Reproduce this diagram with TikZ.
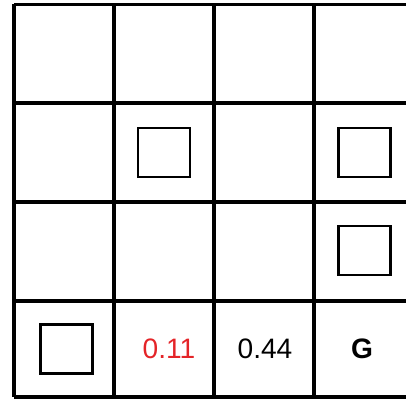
\documentclass[tikz,border=0pt]{standalone}
\usepackage{fontspec}
\setmainfont{Liberation Sans}
\definecolor{valred}{RGB}{228, 36, 40}
\usetikzlibrary{positioning}

\begin{document}
\begin{tikzpicture}[x=0.025cm, y=-0.025cm,
  gridline/.style={line width=2.2pt, black},
  wallbox/.style={draw, line width=1.5pt, minimum width=1.3cm, minimum height=1.225cm, inner sep=0pt},
  valtext/.style={font=\fontsize{20}{24}\selectfont, inner sep=0pt}
]
  \useasboundingbox (0,0) rectangle (406,399);
  % grid
  \foreach \x in {14,114,214,314}
    \draw[gridline] (\x,4.5) -- (\x,397);
  \foreach \y in {4.5,103,202,301,397}
    \draw[gridline] (14,\y) -- (406,\y);
  % boxes
  \node[wallbox] (b1) at (164,152.5) {};
  \node[wallbox] (b2) at (364.5,152.5) {};
  \node[wallbox] (b3) at (364.5,250.5) {};
  \node[wallbox] (b4) at (66.5,349) {};
  % bottom row
  \node[valtext, text=valred] (v1) at (169,349) {0.11};
  \node[valtext] (v2) at (265,349) {0.44};
  \node[valtext, font=\fontsize{20}{24}\selectfont\bfseries] (goal) at (362,349) {G};
\end{tikzpicture}
\end{document}
